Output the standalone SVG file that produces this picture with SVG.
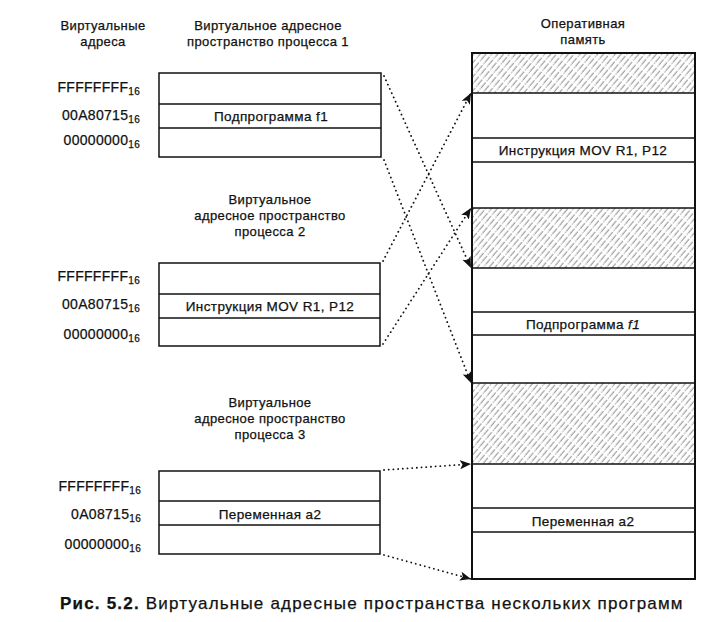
<svg xmlns="http://www.w3.org/2000/svg" width="728" height="622" viewBox="0 0 728 622">
<style>
text{font-family:"Liberation Sans",Arial,"DejaVu Sans",sans-serif;fill:#111;stroke:#111;stroke-width:0.25}
.hd{font-size:13px;letter-spacing:0.4px;text-anchor:middle}
.lb{font-size:13.5px;letter-spacing:0.4px;text-anchor:middle}
.ad{font-size:14px;letter-spacing:0.3px;text-anchor:end}
.sub{font-size:10px}
.box{fill:#fff;stroke:#111;stroke-width:1.5}
.mem{fill:none;stroke:#111;stroke-width:2}
.div{stroke:#111;stroke-width:1.3}
.hatch{fill:url(#hatch);stroke:none}
.con{fill:none;stroke:#111;stroke-width:1.8;stroke-linecap:round;stroke-dasharray:0.1 4.6;marker-end:url(#arr)}
.cap{font-size:17px;letter-spacing:1.2px}
</style>
<defs>
<pattern id="hatch" patternUnits="userSpaceOnUse" width="11" height="4.5" patternTransform="rotate(-50)">
<line x1="0" y1="2" x2="7" y2="2" stroke="#5a5a5a" stroke-width="0.75"/>
<line x1="8.5" y1="2" x2="10.5" y2="2" stroke="#707070" stroke-width="0.65"/>
</pattern>
<marker id="arr" markerUnits="userSpaceOnUse" markerWidth="13" markerHeight="10" refX="11" refY="4.5" orient="auto">
<path d="M0,0 L11,4.5 L0,9 L2.5,4.5 z" fill="#111"/>
</marker>
</defs>

<g id="header-addresses">
<text class="hd" x="103" y="30">Виртуальные</text>
<text class="hd" x="103" y="46">адреса</text>
</g>

<g id="process1">
<text class="hd" x="268" y="30">Виртуальное адресное</text>
<text class="hd" x="268" y="46">пространство процесса 1</text>
<rect class="box" x="159" y="73" width="222" height="84"/>
<line class="div" x1="159" y1="104" x2="381" y2="104"/>
<line class="div" x1="159" y1="128" x2="381" y2="128"/>
<text class="lb" x="271" y="121">Подпрограмма  f1</text>
<text class="ad" x="140" y="92">FFFFFFFF<tspan class="sub" dy="3">16</tspan></text>
<text class="ad" x="140" y="120">00A80715<tspan class="sub" dy="3">16</tspan></text>
<text class="ad" x="140" y="145">00000000<tspan class="sub" dy="3">16</tspan></text>
</g>

<g id="process2">
<text class="hd" x="270" y="204">Виртуальное</text>
<text class="hd" x="270" y="220">адресное пространство</text>
<text class="hd" x="270" y="236">процесса 2</text>
<rect class="box" x="159" y="263" width="221" height="83"/>
<line class="div" x1="159" y1="294" x2="380" y2="294"/>
<line class="div" x1="159" y1="318" x2="380" y2="318"/>
<text class="lb" x="270" y="311">Инструкция MOV R1, P12</text>
<text class="ad" x="140" y="281">FFFFFFFF<tspan class="sub" dy="3">16</tspan></text>
<text class="ad" x="140" y="309">00A80715<tspan class="sub" dy="3">16</tspan></text>
<text class="ad" x="140" y="339">00000000<tspan class="sub" dy="3">16</tspan></text>
</g>

<g id="process3">
<text class="hd" x="270" y="407">Виртуальное</text>
<text class="hd" x="270" y="423">адресное пространство</text>
<text class="hd" x="270" y="439">процесса 3</text>
<rect class="box" x="159" y="471" width="221" height="83"/>
<line class="div" x1="159" y1="501" x2="380" y2="501"/>
<line class="div" x1="159" y1="525" x2="380" y2="525"/>
<text class="lb" x="270" y="519">Переменная а2</text>
<text class="ad" x="141" y="491">FFFFFFFF<tspan class="sub" dy="3">16</tspan></text>
<text class="ad" x="141" y="519">0A08715<tspan class="sub" dy="3">16</tspan></text>
<text class="ad" x="141" y="549">00000000<tspan class="sub" dy="3">16</tspan></text>
</g>

<g id="memory">
<text class="hd" x="583" y="28">Оперативная</text>
<text class="hd" x="583" y="44">память</text>
<rect class="hatch" x="472" y="53" width="223" height="40"/>
<rect class="hatch" x="472" y="208" width="223" height="60"/>
<rect class="hatch" x="472" y="383" width="223" height="81"/>
<rect class="mem" x="472" y="53" width="223" height="526"/>
<line class="div" x1="472" y1="93" x2="695" y2="93" stroke-width="1.8"/>
<line class="div" x1="472" y1="138" x2="695" y2="138"/>
<line class="div" x1="472" y1="162" x2="695" y2="162"/>
<line class="div" x1="472" y1="208" x2="695" y2="208" stroke-width="1.8"/>
<line class="div" x1="472" y1="268" x2="695" y2="268" stroke-width="1.8"/>
<line class="div" x1="472" y1="312" x2="695" y2="312"/>
<line class="div" x1="472" y1="335" x2="695" y2="335"/>
<line class="div" x1="472" y1="383" x2="695" y2="383" stroke-width="1.8"/>
<line class="div" x1="472" y1="464" x2="695" y2="464" stroke-width="1.8"/>
<line class="div" x1="472" y1="508" x2="695" y2="508"/>
<line class="div" x1="472" y1="532" x2="695" y2="532"/>
<text class="lb" x="583" y="155">Инструкция MOV R1, P12</text>
<text class="lb" x="583" y="329">Подпрограмма  <tspan font-style="italic">f1</tspan></text>
<text class="lb" x="583" y="526">Переменная а2</text>
</g>

<g id="connectors">
<path class="con" d="M384,76 L471,268"/>
<path class="con" d="M384,160 L471,383"/>
<path class="con" d="M383,261 L471,93"/>
<path class="con" d="M383,344 L471,208"/>
<path class="con" d="M384,470 L471,464"/>
<path class="con" d="M384,555 L471,579"/>
</g>

<g id="caption">
<text class="cap" x="60" y="609"><tspan font-weight="bold">Рис. 5.2.</tspan> Виртуальные адресные пространства нескольких программ</text>
</g>
</svg>
